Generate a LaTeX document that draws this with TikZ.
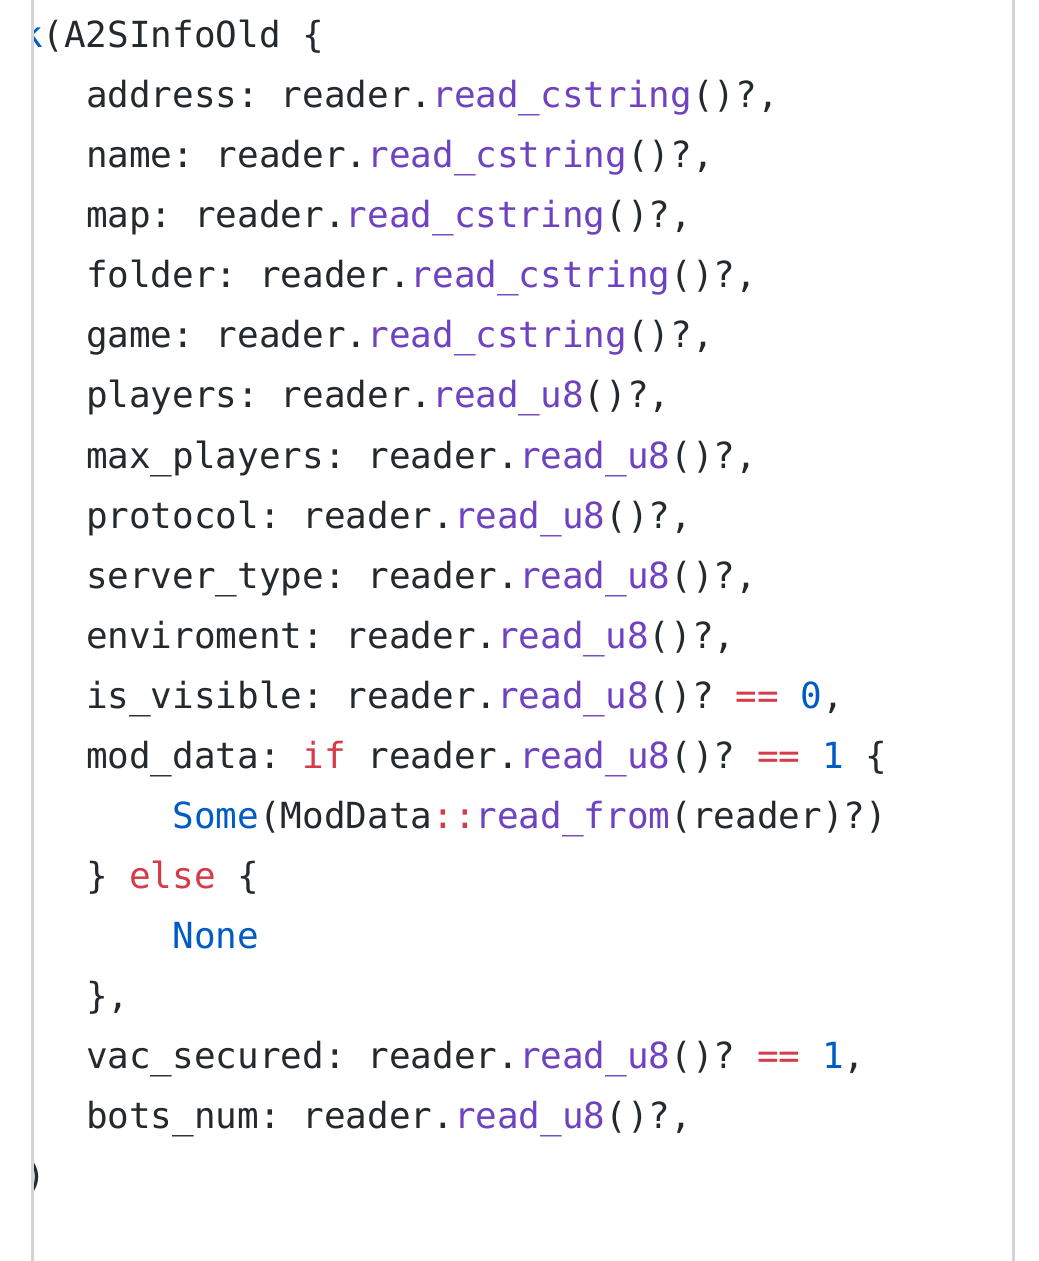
\documentclass[tikz,border=0pt]{standalone}
\usepackage{fontspec}
\newfontfamily\codefont{DejaVu Sans Mono}
\definecolor{txt}{HTML}{24292E}
\definecolor{fnc}{HTML}{6F42C1}
\definecolor{kwd}{HTML}{D73A49}
\definecolor{cst}{HTML}{005CC5}
\definecolor{rulecol}{HTML}{D1D5DA}
\newcommand\hlF[1]{\textcolor{fnc}{#1}}
\newcommand\hlK[1]{\textcolor{kwd}{#1}}
\newcommand\hlC[1]{\textcolor{cst}{#1}}
\begin{document}
\begin{tikzpicture}[x=0.5pt,y=-0.5pt,
  code/.style={anchor=base west, inner sep=0pt, outer sep=0pt, text=txt,
    font=\codefont\fontsize{17.98pt}{30pt}\selectfont\frenchspacing}]
\useasboundingbox (0,0) rectangle (1038,1261);
\fill[white] (0,0) rectangle (1038,1261);
\begin{scope}
\clip (34,0) rectangle (1012,1261);
\node[code] (l0) at (-0.6,48) {\hlC{Ok}(A2SInfoOld \{};
\node[code] (l1) at (86,108) {address: reader.\hlF{read\_cstring}()?,};
\node[code] (l2) at (86,168) {name: reader.\hlF{read\_cstring}()?,};
\node[code] (l3) at (86,228) {map: reader.\hlF{read\_cstring}()?,};
\node[code] (l4) at (86,288) {folder: reader.\hlF{read\_cstring}()?,};
\node[code] (l5) at (86,348) {game: reader.\hlF{read\_cstring}()?,};
\node[code] (l6) at (86,408) {players: reader.\hlF{read\_u8}()?,};
\node[code] (l7) at (86,468) {max\_players: reader.\hlF{read\_u8}()?,};
\node[code] (l8) at (86,528) {protocol: reader.\hlF{read\_u8}()?,};
\node[code] (l9) at (86,588) {server\_type: reader.\hlF{read\_u8}()?,};
\node[code] (l10) at (86,648) {enviroment: reader.\hlF{read\_u8}()?,};
\node[code] (l11) at (86,708) {is\_visible: reader.\hlF{read\_u8}()? \hlK{==} \hlC{0},};
\node[code] (l12) at (86,768) {mod\_data: \hlK{if} reader.\hlF{read\_u8}()? \hlK{==} \hlC{1} \{};
\node[code] (l13) at (172.6,828) {\hlC{Some}(ModData\hlK{::}\hlF{read\_from}(reader)?)};
\node[code] (l14) at (86,888) {\} \hlK{else} \{};
\node[code] (l15) at (172.6,948) {\hlC{None}};
\node[code] (l16) at (86,1008) {\},};
\node[code] (l17) at (86,1068) {vac\_secured: reader.\hlF{read\_u8}()? \hlK{==} \hlC{1},};
\node[code] (l18) at (86,1128) {bots\_num: reader.\hlF{read\_u8}()?,};
\node[code] (l19) at (3,1188) {\})};
\end{scope}
\fill[rulecol] (31,0) rectangle (34,1261);
\fill[rulecol] (1012,0) rectangle (1015,1261);
\end{tikzpicture}
\end{document}
